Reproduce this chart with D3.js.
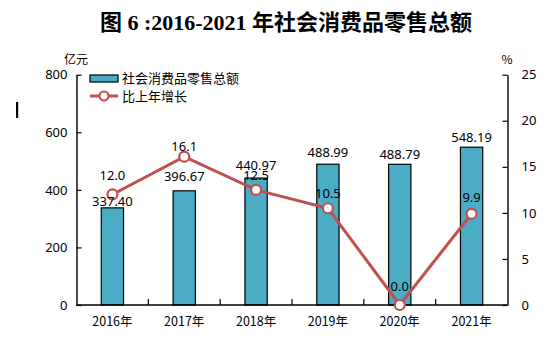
<!DOCTYPE html>
<html>
<head>
<meta charset="utf-8">
<script src="https://cdn.jsdelivr.net/npm/d3@7"></script>
<style>
    body { margin: 0; background: #fff; }
    svg text { font-family: "Noto Sans CJK SC", "Noto Sans", sans-serif; fill: #000; }
</style>
</head>
<body>
<svg id="chart" width="560" height="352"></svg>
<script>
// chart values
const years = ["2016年", "2017年", "2018年", "2019年", "2020年", "2021年"];
const retailSales = [337.40, 396.67, 440.97, 488.99, 488.79, 548.19];
const growthRate = [12.0, 16.1, 12.5, 10.5, 0.0, 9.9];
const leftTicks = [0, 200, 400, 600, 800];
const rightTicks = [0, 5, 10, 15, 20, 25];

const barColor = "#4BACC6";
const lineColor = "#C0504D";

drawChart();

function drawChart() {
    let svg = d3.select("#chart");
    let left = 76.5, right = 507.5, top = 74.7, bottom = 305;

    let x = d3.scaleBand()
        .domain(years)
        .range([left, right]);
    let yL = d3.scaleLinear().domain([0, 800]).range([bottom, top]);
    let yR = d3.scaleLinear().domain([0, 25]).range([bottom, top]);
    let barW = x.bandwidth() * 0.31;

    // title
    svg.append("text")
        .attr("x", 286)
        .attr("y", 30)
        .attr("text-anchor", "middle")
        .style("font-family", "'Liberation Serif', 'Noto Sans CJK SC', serif")
        .style("font-weight", "bold")
        .style("font-size", "22px")
        .text("图 6 :2016-2021 年社会消费品零售总额");

    // unit labels
    svg.append("text")
        .attr("x", 76)
        .attr("y", 60)
        .attr("dy", "0.35em")
        .attr("text-anchor", "middle")
        .style("font-size", "12px")
        .text("亿元");
    svg.append("text")
        .attr("x", 507)
        .attr("y", 60)
        .attr("dy", "0.35em")
        .attr("text-anchor", "middle")
        .style("font-size", "12px")
        .text("%");

    // stray cursor mark on the left
    svg.append("rect")
        .attr("x", 16)
        .attr("y", 102)
        .attr("width", 2.2)
        .attr("height", 16)
        .attr("fill", "#000");

    // bars
    svg.selectAll("rect.bar")
        .data(retailSales)
        .enter()
        .append("rect")
        .attr("class", "bar")
        .attr("x", (d, i) => x(years[i]) + x.bandwidth() / 2 - barW / 2)
        .attr("y", d => yL(d))
        .attr("width", barW)
        .attr("height", d => bottom - yL(d))
        .attr("fill", barColor)
        .attr("stroke", "#000")
        .attr("stroke-width", 1.2);

    // left axis
    let axisL = d3.axisLeft(yL)
        .tickValues(leftTicks)
        .tickSizeInner(-5)
        .tickSizeOuter(0)
        .tickPadding(9);
    let gL = svg.append("g")
        .attr("transform", `translate(${left},0)`)
        .call(axisL);

    // right axis
    let axisR = d3.axisRight(yR)
        .tickValues(rightTicks)
        .tickSizeInner(-5)
        .tickSizeOuter(0)
        .tickPadding(14);
    let gR = svg.append("g")
        .attr("transform", `translate(${right},0)`)
        .call(axisR);

    // bottom axis, ticks between the categories
    let gB = svg.append("g")
        .attr("transform", `translate(0,${bottom})`);
    gB.append("line")
        .attr("x1", left).attr("x2", right)
        .attr("y1", 0).attr("y2", 0)
        .attr("stroke", "#000")
        .attr("stroke-width", 1.4);
    gB.selectAll("line.tick")
        .data(years.slice(1))
        .enter()
        .append("line")
        .attr("class", "tick")
        .attr("x1", d => x(d)).attr("x2", d => x(d))
        .attr("y1", 0).attr("y2", -6)
        .attr("stroke", "#000")
        .attr("stroke-width", 1.2);
    gB.selectAll("text")
        .data(years)
        .enter()
        .append("text")
        .attr("x", d => x(d) + x.bandwidth() / 2)
        .attr("y", 17)
        .attr("dy", "0.35em")
        .attr("text-anchor", "middle")
        .style("font-size", "12.5px")
        .text(d => d);

    [gL, gR].forEach(g => {
        g.select(".domain").attr("stroke", "#000").attr("stroke-width", 1.4);
        g.selectAll(".tick line").attr("stroke", "#000").attr("stroke-width", 1.2);
        g.selectAll(".tick text")
            .style("font-size", "13px")
            .style("font-family", "'Noto Sans', sans-serif");
    });

    // growth line
    let line = d3.line()
        .x((d, i) => x(years[i]) + x.bandwidth() / 2)
        .y(d => yR(d));
    svg.append("path")
        .datum(growthRate)
        .attr("d", line)
        .attr("fill", "none")
        .attr("stroke", lineColor)
        .attr("stroke-width", 3);
    svg.selectAll("circle.marker")
        .data(growthRate)
        .enter()
        .append("circle")
        .attr("class", "marker")
        .attr("cx", (d, i) => x(years[i]) + x.bandwidth() / 2)
        .attr("cy", d => yR(d))
        .attr("r", 5)
        .attr("fill", "#fff")
        .attr("stroke", lineColor)
        .attr("stroke-width", 2.2);

    // value labels (lift above the mark, nudged like the original)
    let barLift = [6, 14, 13, 11.5, 10, 10];
    let lineLift = [19, 10.7, 14, 15, 19, 16.6];
    svg.selectAll("text.barLabel")
        .data(retailSales)
        .enter()
        .append("text")
        .attr("class", "barLabel")
        .attr("x", (d, i) => x(years[i]) + x.bandwidth() / 2)
        .attr("y", (d, i) => yL(d) - barLift[i])
        .attr("dy", "0.35em")
        .attr("text-anchor", "middle")
        .style("font-size", "13px")
        .style("font-family", "'Noto Sans', sans-serif")
        .text(d => d.toFixed(2));
    svg.selectAll("text.lineLabel")
        .data(growthRate)
        .enter()
        .append("text")
        .attr("class", "lineLabel")
        .attr("x", (d, i) => x(years[i]) + x.bandwidth() / 2)
        .attr("y", (d, i) => yR(d) - lineLift[i])
        .attr("dy", "0.35em")
        .attr("text-anchor", "middle")
        .style("font-size", "13px")
        .style("font-family", "'Noto Sans', sans-serif")
        .text(d => d.toFixed(1));

    // legend
    let lg = svg.append("g").attr("transform", "translate(90,0)");
    lg.append("rect")
        .attr("x", 0).attr("y", 75)
        .attr("width", 28).attr("height", 7)
        .attr("fill", barColor)
        .attr("stroke", "#000")
        .attr("stroke-width", 1.2);
    lg.append("text")
        .attr("x", 32).attr("y", 78.5)
        .attr("dy", "0.35em")
        .style("font-size", "13px")
        .text("社会消费品零售总额");
    lg.append("line")
        .attr("x1", 0).attr("x2", 28)
        .attr("y1", 96).attr("y2", 96)
        .attr("stroke", lineColor)
        .attr("stroke-width", 3);
    lg.append("circle")
        .attr("cx", 14).attr("cy", 96)
        .attr("r", 4.5)
        .attr("fill", "#fff")
        .attr("stroke", lineColor)
        .attr("stroke-width", 2.2);
    lg.append("text")
        .attr("x", 32).attr("y", 96)
        .attr("dy", "0.35em")
        .style("font-size", "13px")
        .text("比上年增长");
}
</script>
</body>
</html>
